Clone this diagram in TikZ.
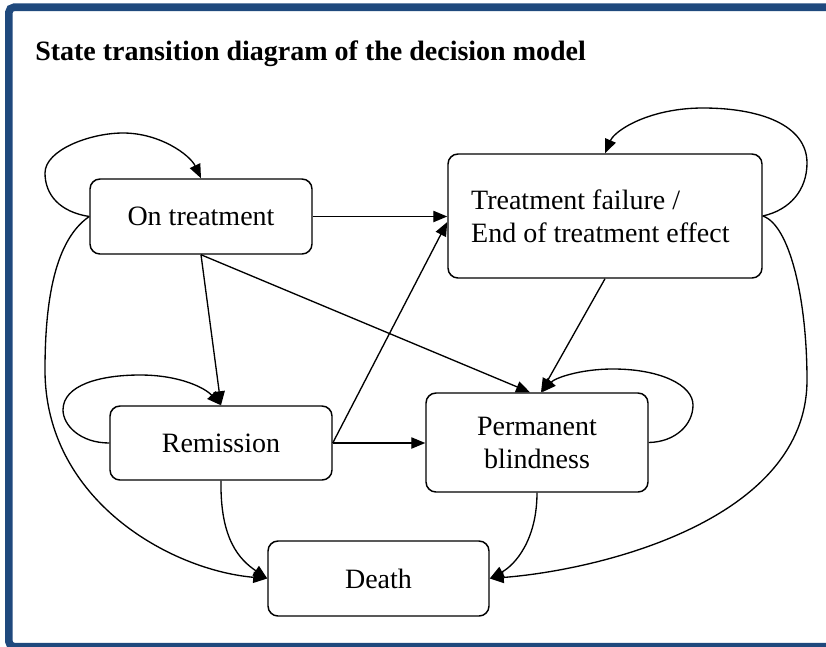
\documentclass[tikz,border=0pt]{standalone}
\usepackage{fontspec}
\setmainfont{Liberation Serif}
\usetikzlibrary{arrows.meta,calc}
\definecolor{framecol}{HTML}{1F497D}
\begin{document}
\begin{tikzpicture}[x=0.75pt,y=-0.75pt,
  box/.style={draw, line width=1.1pt, rounded corners=7.5pt, font=\fontsize{21pt}{24.75pt}\selectfont, inner sep=0pt},
  conn/.style={line width=1pt, -{Triangle[length=10.5pt,width=8.5pt]}},
  frameline/.style={draw=framecol, line width=5.7pt, rounded corners=4pt},
]
\useasboundingbox (0,0) rectangle (826,647);
\fill[white] (0,0) rectangle (826,647);
\begin{scope}
\clip (0,0) rectangle (826,647);
\draw[frameline] (840,646.7) -- (8.8,646.7) -- (8.8,7.2) -- (840,7.2);
\end{scope}

\node[anchor=base west, inner sep=0pt, font=\fontsize{21pt}{25pt}\selectfont\bfseries] (title) at (35,60) {State transition diagram of the decision model};

\node[box, minimum width=166.5pt, minimum height=56.25pt] (ot) at (201,216.5) {On treatment};
\node[box, minimum width=235.5pt, minimum height=93pt, align=left] (tf) at (605,216) {Treatment failure /\\End of treatment effect\hspace*{7pt}};
\node[box, minimum width=166.5pt, minimum height=55.5pt] (rem) at (221,443) {Remission};
\node[box, minimum width=166.5pt, minimum height=74.25pt, align=center] (pb) at (537,442.5) {Permanent\\blindness};
\node[box, minimum width=165.75pt, minimum height=56.25pt] (death) at (378.5,578.5) {Death};

% self loops
\draw[conn] (ot.west) .. controls (60,212) and (45,195) .. (45,173)
  .. controls (45,150) and (90,133) .. (123,133)
  .. controls (160,133) and (190,155) .. (ot.north);
\draw[conn] (tf.east) .. controls (790,210) and (807,190) .. (807,163)
  .. controls (807,125) and (760,108) .. (703,108)
  .. controls (650,108) and (615,130) .. (tf.north);
\draw[conn] (rem.west) .. controls (80,443) and (63,425) .. (63,410)
  .. controls (63,385) and (100,375) .. (140,375)
  .. controls (180,375) and (205,388) .. (rem.north);
\draw[conn] (pb.east) .. controls (675,442) and (693,425) .. (693,405)
  .. controls (693,385) and (660,369) .. (613,369)
  .. controls (580,369) and (555,378) .. ($(pb.north)+(5,0)$);

% straight transitions
\draw[conn] (ot.east) -- (ot.east -| tf.west);
\draw[conn] (rem.east) -- ($(tf.west)+(0,6)$);
\draw[conn] (ot.south) -- (rem.north);
\draw[conn] (ot.south) -- ($(pb.north)+(-7,0)$);
\draw[conn] (tf.south) -- ($(pb.north)+(4,0)$);
\draw[conn] (rem.east) -- (rem.east -| pb.west);

% to death
\draw[conn] (ot.west) .. controls (55,240) and (45,300) .. (45,370)
  .. controls (45,500) and (170,570) .. (death.west);
\draw[conn] (rem.south) .. controls (220,540) and (240,560) .. (death.west);
\draw[conn] (pb.south) .. controls (537,540) and (515,565) .. (death.east);
\draw[conn] (tf.east) .. controls (790,225) and (807,300) .. (807,380)
  .. controls (807,520) and (600,570) .. (death.east);
\end{tikzpicture}
\end{document}
